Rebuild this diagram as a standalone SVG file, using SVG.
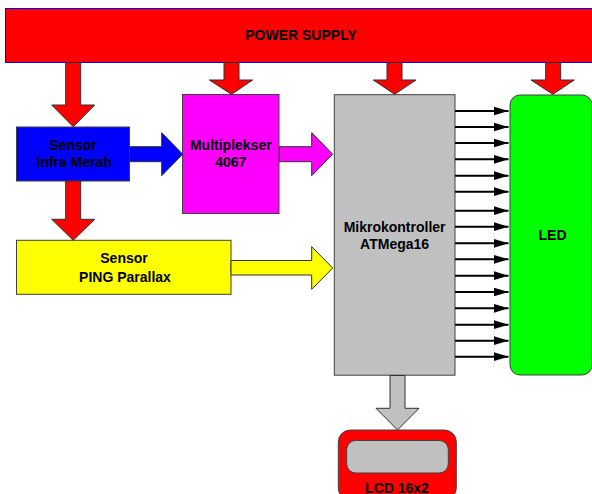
<svg xmlns="http://www.w3.org/2000/svg" width="592" height="494" viewBox="0 0 592 494">
<defs>
<style>
.box{stroke:#404040;stroke-width:1}
.arr{stroke:#303030;stroke-width:1;stroke-linejoin:miter}
.t{font-family:"Liberation Sans",Arial,sans-serif;font-weight:bold;font-size:14px;fill:#000;text-anchor:middle}
.sig{stroke:#000;stroke-width:2;fill:none}
</style>
<marker id="ah" markerUnits="userSpaceOnUse" markerWidth="16" markerHeight="10" refX="15" refY="5" orient="auto">
<path d="M0,0.5 L15,5 L0,9.5 Z" fill="#000"/>
</marker>
</defs>
<rect width="592" height="494" fill="#fff"/>

<g id="power-supply">
<rect x="5.5" y="8.5" width="600" height="54" fill="#FF0000" stroke="#0000FF" stroke-width="1"/>
<text class="t" x="301" y="39.5">POWER SUPPLY</text>
</g>

<g id="sensor-infra-merah">
<rect class="box" x="16.5" y="127" width="113" height="54" fill="#0000FF"/>
<text class="t" x="73" y="150">Sensor</text>
<text class="t" x="74" y="166.5">Infra Merah</text>
</g>

<g id="multiplekser">
<rect class="box" x="182.5" y="94.5" width="96.5" height="119" fill="#FF00FF"/>
<text class="t" x="230.8" y="150">Multiplekser</text>
<text class="t" x="230.8" y="166.5">4067</text>
</g>

<g id="sensor-ping">
<rect class="box" x="16.5" y="240.3" width="214.5" height="54" fill="#FFFF00"/>
<text class="t" x="124" y="263.3">Sensor</text>
<text class="t" x="125" y="281.7">PING Parallax</text>
</g>

<g id="mikrokontroller">
<rect class="box" x="334.3" y="94.7" width="120.7" height="280.5" fill="#C0C0C0"/>
<text class="t" x="394.6" y="231.7">Mikrokontroller</text>
<text class="t" x="394.6" y="249">ATMega16</text>
</g>

<g id="led">
<rect class="box" x="510" y="95" width="82" height="280" rx="10" ry="10" fill="#00FF00"/>
<text class="t" x="552.5" y="240">LED</text>
</g>

<g id="lcd">
<rect class="box" x="338.3" y="430" width="118" height="70" rx="12" ry="12" fill="#FF0000"/>
<rect class="box" x="346.7" y="440.5" width="101.6" height="32.5" rx="9" ry="9" fill="#C0C0C0"/>
<text class="t" x="397" y="492.5">LCD 16x2</text>
</g>

<g id="connectors">
<polygon class="arr" fill="#FF0000" points="65.7,62.5 80.7,62.5 80.7,105 94.7,105 73.2,126.7 51.7,105 65.7,105"/>
<polygon class="arr" fill="#FF0000" points="224,62.5 239,62.5 239,80 252.7,80 231.5,94.3 209.3,80 224,80"/>
<polygon class="arr" fill="#FF0000" points="387,62.5 402,62.5 402,80 416,80 394.6,94.3 373.3,80 387,80"/>
<polygon class="arr" fill="#FF0000" points="545.7,62.5 560.7,62.5 560.7,80 574.3,80 552.8,94.3 531,80 545.7,80"/>
<polygon class="arr" fill="#FF0000" points="65.7,181 80.7,181 80.7,219.3 94.7,219.3 73.2,240.3 51.7,219.3 65.7,219.3"/>
<polygon class="arr" fill="#0000FF" points="129.5,146.7 161.7,146.7 161.7,132.7 182.7,154.2 161.7,175.7 161.7,161.7 129.5,161.7"/>
<polygon class="arr" fill="#FF00FF" points="279.3,146.7 311.7,146.7 311.7,132.7 332.7,154.2 311.7,175.7 311.7,161.7 279.3,161.7"/>
<polygon class="arr" fill="#FFFF00" points="231,260.5 311.7,260.5 311.7,246.7 332.7,268 311.7,289.3 311.7,275 231,275"/>
<polygon class="arr" fill="#C0C0C0" points="390,375.5 405,375.5 405,408.3 419,408.3 397.5,430 376,408.3 390,408.3"/>
<g class="sig" marker-end="url(#ah)">
<line x1="455" y1="111" x2="508.5" y2="111"/>
<line x1="455" y1="127" x2="508.5" y2="127"/>
<line x1="455" y1="143" x2="508.5" y2="143"/>
<line x1="455" y1="159.3" x2="508.5" y2="159.3"/>
<line x1="455" y1="175.7" x2="508.5" y2="175.7"/>
<line x1="455" y1="191.7" x2="508.5" y2="191.7"/>
<line x1="455" y1="210.7" x2="508.5" y2="210.7"/>
<line x1="455" y1="226.7" x2="508.5" y2="226.7"/>
<line x1="455" y1="243.3" x2="508.5" y2="243.3"/>
<line x1="455" y1="259.3" x2="508.5" y2="259.3"/>
<line x1="455" y1="275.7" x2="508.5" y2="275.7"/>
<line x1="455" y1="292" x2="508.5" y2="292"/>
<line x1="455" y1="308.3" x2="508.5" y2="308.3"/>
<line x1="455" y1="324.7" x2="508.5" y2="324.7"/>
<line x1="455" y1="340.7" x2="508.5" y2="340.7"/>
<line x1="455" y1="356.7" x2="508.5" y2="356.7"/>
</g>
</g>
</svg>
